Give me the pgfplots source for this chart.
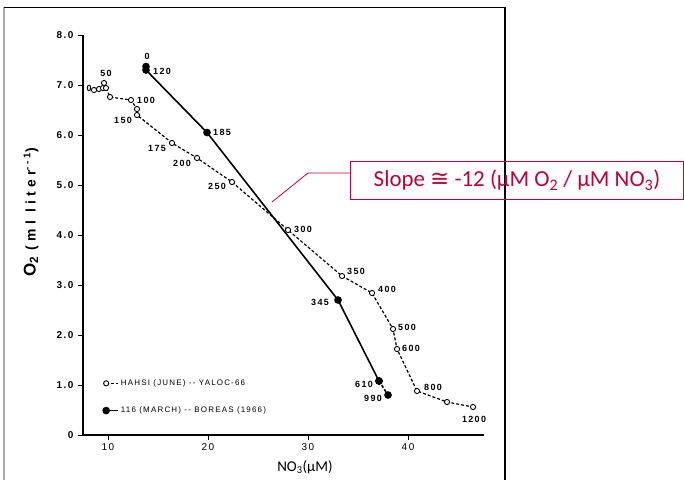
\documentclass[border=0pt]{standalone}
\usepackage{pgfplots}
\pgfplotsset{compat=1.18}
\usepackage{fontspec}
\setmainfont{Liberation Sans}
\newfontfamily\scan[LetterSpace=15]{Liberation Sans}
\newfontfamily\scanwide[LetterSpace=30]{Liberation Sans}
\newfontfamily\calibri{Carlito}
\newfontfamily\dejavu{DejaVu Sans}
\definecolor{callout}{RGB}{192,0,60}
\begin{document}
\begin{tikzpicture}
\path[use as bounding box] (0,0) rectangle (684bp,480bp);
\draw[gray!65, line width=1.6bp] (4bp,-2bp) -- (4bp,473bp);
\draw[black, line width=0.8bp] (4bp,473bp) -- (505bp,473bp);
\draw[black, line width=1.2bp] (505bp,473bp) -- (505bp,-2bp);
\begin{axis}[
  at={(83bp,45bp)}, anchor=south west, scale only axis,
  width=401bp, height=400bp,
  xmin=7.5, xmax=47.6, ymin=0, ymax=8,
  axis x line*=bottom, axis y line*=left,
  axis line style={-, line width=1.3pt},
  xtick={10,20,30,40}, xticklabels={10,20,30,40},
  ytick={0,1,2,3,4,5,6,7,8},
  yticklabels={0,1.0,2.0,3.0,4.0,5.0,6.0,7.0,8.0},
  tick align=outside, major tick length=5bp,
  tick style={line width=1pt, black},
  yticklabel style={font=\scan\bfseries\fontsize{10}{11}\selectfont, xshift=-1bp},
  xticklabel style={font=\scan\fontsize{10}{11}\selectfont},
  clip=false,
  legend image code/.code={\draw[#1,mark indices={1}] plot coordinates {(0cm,0cm) (0.42cm,0cm)};},
  legend style={at={(axis cs:9.2,1.19)}, anchor=north west, draw=none, fill=none,
    font=\scan\fontsize{8}{9}\selectfont, row sep=16bp},
  legend cell align=left,
]
\addplot[black, line width=1.2pt, dash pattern=on 3pt off 2pt,
  mark=*, mark size=2.6pt, mark options={solid, fill=white, draw=black, line width=0.9pt}]
  coordinates {(8.6,6.90) (9.1,6.92) (9.5,6.94) (9.6,7.04) (9.8,6.94) (10.2,6.76)
  (12.3,6.70) (12.9,6.52) (12.9,6.40) (16.4,5.84) (18.9,5.54) (22.4,5.06)
  (28.0,4.10) (33.4,3.18) (36.4,2.84) (38.5,2.12) (38.9,1.72) (40.9,0.88)
  (43.9,0.66) (46.5,0.56)};
\addlegendentry{HAHSI (JUNE) -- YALOC-66}
\addplot[black, line width=1.6pt, mark=*, mark size=3pt, mark options={solid}]
  coordinates {(13.8,7.37) (13.8,7.30) (19.9,6.05) (33.0,2.70) (37.1,1.08)};
\addlegendentry{116 (MARCH) -- BOREAS (1966)}
\addplot[black, line width=1.6pt, dash pattern=on 3pt off 2pt, mark=*, mark size=3pt,
  mark options={solid}, forget plot]
  coordinates {(37.1,1.08) (38.0,0.80)};
% point labels
\begin{scope}[every node/.style={font=\scan\bfseries\fontsize{9}{10}\selectfont, inner sep=0pt}]
\node at (axis cs:8.1,6.94) {0};
\node at (axis cs:9.8,7.24) {50};
\node at (axis cs:13.8,6.70) {100};
\node at (axis cs:11.5,6.30) {150};
\node at (axis cs:14.9,5.74) {175};
\node at (axis cs:17.4,5.44) {200};
\node at (axis cs:20.9,4.98) {250};
\node at (axis cs:29.5,4.12) {300};
\node at (axis cs:34.8,3.28) {350};
\node at (axis cs:37.9,2.92) {400};
\node at (axis cs:39.9,2.16) {500};
\node at (axis cs:40.3,1.74) {600};
\node at (axis cs:42.5,0.96) {800};
\node at (axis cs:46.6,0.32) {1200};
\node at (axis cs:13.9,7.58) {0};
\node at (axis cs:15.4,7.28) {120};
\node at (axis cs:21.4,6.06) {185};
\node at (axis cs:31.2,2.66) {345};
\node at (axis cs:35.6,1.02) {610};
\node at (axis cs:36.5,0.74) {990};
\end{scope}
\end{axis}
% axis titles
\node[rotate=90, anchor=center, inner sep=0pt] at (31bp,268bp)
  {{\scanwide\bfseries\fontsize{17}{19}\selectfont O\textsubscript{2}}\hspace{6bp}{\scanwide\bfseries\fontsize{14}{16}\selectfont (ml liter\textsuperscript{--1})}};
\node[font=\calibri\fontsize{15}{18}\selectfont] at (305bp,13bp) {NO\textsubscript{3}(µM)};
% callout
\draw[callout, line width=0.8bp] (272bp,278bp) -- (308bp,307bp) -- (350bp,307bp);
\draw[callout, line width=0.9bp] (350bp,281bp) rectangle (683bp,319bp);
\node[text=callout, font=\calibri\fontsize{23}{26}\selectfont] at (517bp,300bp)
  {Slope {\dejavu ≅} -12 (µM O\textsubscript{2} / µM NO\textsubscript{3})};
\end{tikzpicture}
\end{document}
